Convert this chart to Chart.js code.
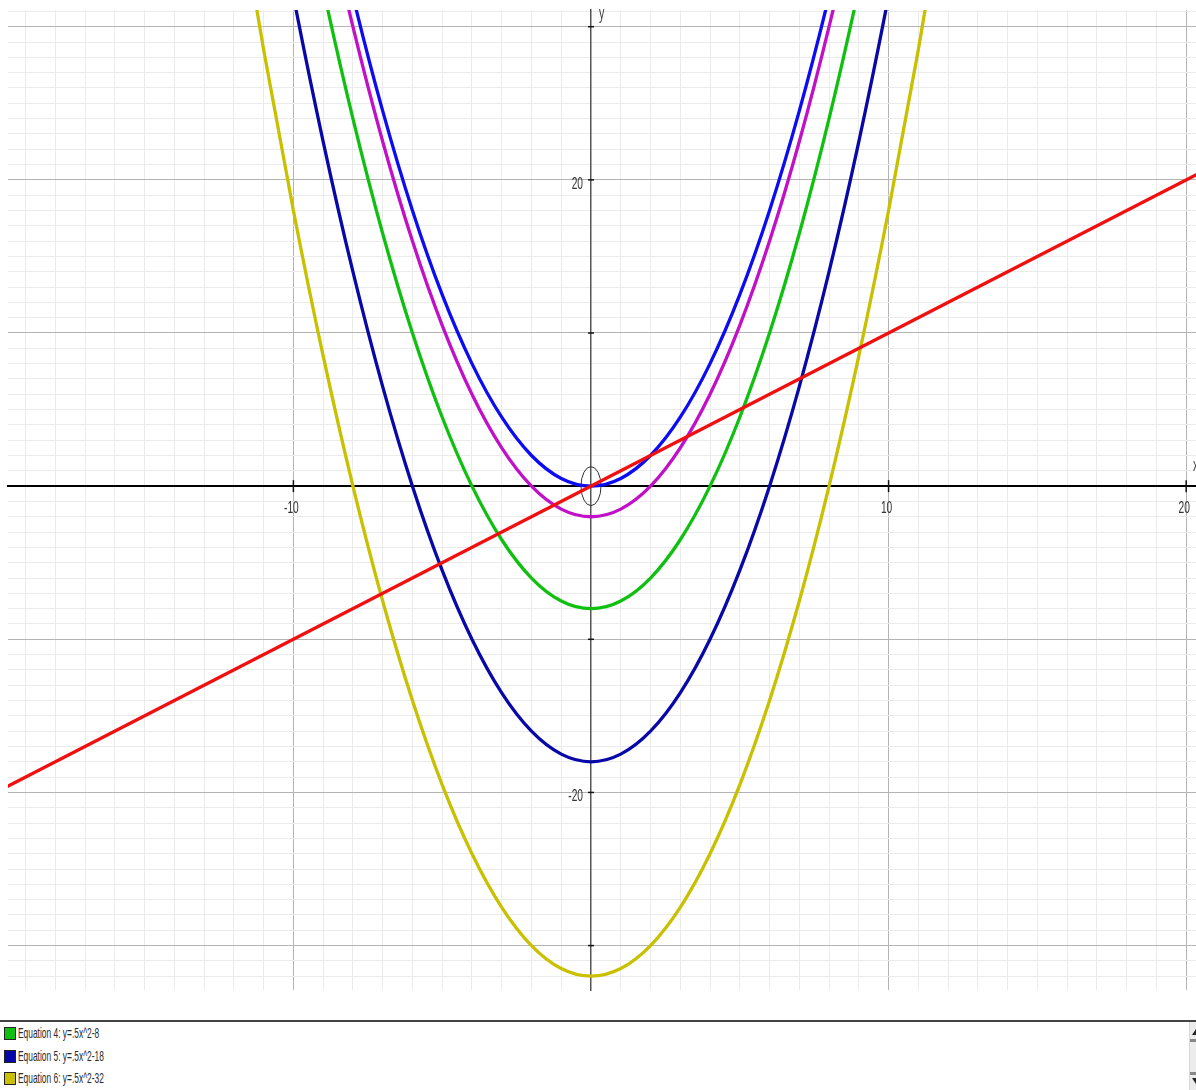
<!DOCTYPE html>
<html>
<head>
<meta charset="utf-8">
<script src="https://cdn.jsdelivr.net/npm/chart.js@4.4.1/dist/chart.umd.min.js"></script>
<style>
  html, body { margin: 0; padding: 0; background: #fff; overflow: hidden; }
  #wrap { position: relative; width: 1196px; height: 1020px; }
  #panel {
    position: relative; width: 1196px; height: 68px; overflow: hidden;
    border-top: 2px solid #444;
    font-family: "Liberation Sans", Arial, sans-serif;
    font-size: 15px; color: #2a2a2a;
  }
  .row { position: absolute; left: 4px; height: 13px; line-height: 13px; white-space: nowrap; }
  .sw { position: absolute; left: 0; top: 0; width: 10px; height: 11px; border: 1px solid #222; }
  .txt { position: absolute; left: 14px; top: -1px; transform: scaleX(0.56); transform-origin: 0 50%; }
  #sb { position: absolute; left: 1189px; top: 0; width: 16px; height: 68px; background: #ececec; border-left: 1px solid #d8d8d8; }
  .arr { position: absolute; left: 2px; width: 0; height: 0; border-left: 4px solid transparent; border-right: 4px solid transparent; }
</style>
</head>
<body>
<div id="wrap"><canvas id="graph"></canvas></div>
<div id="panel">
  <div id="rows"></div>
  <div id="sb">
    <div class="arr" style="top:7px;border-bottom:6px solid #222;"></div>
    <div style="position:absolute;left:0;top:17px;width:12px;height:3px;background:#888;"></div>
    <div style="position:absolute;left:0;top:50px;width:12px;height:3px;background:#888;"></div>
    <div class="arr" style="top:56px;border-top:6px solid #222;"></div>
  </div>
</div>
<script>
// sample x positions for the curves
const xValues = [-12, -11, -10, -9, -8, -7, -6, -5, -4, -3, -2, -1, 0, 1, 2, 3, 4, 5, 6, 7, 8, 9, 10, 11, 12];

// y = x (red line), only two ends needed
const lineX = [-21, 21];
const lineY = [-21, 21];

// y = .5x^2
const eq2 = [72, 60.5, 50, 40.5, 32, 24.5, 18, 12.5, 8, 4.5, 2, 0.5, 0, 0.5, 2, 4.5, 8, 12.5, 18, 24.5, 32, 40.5, 50, 60.5, 72];
// y = .5x^2-2
const eq3 = [70, 58.5, 48, 38.5, 30, 22.5, 16, 10.5, 6, 2.5, 0, -1.5, -2, -1.5, 0, 2.5, 6, 10.5, 16, 22.5, 30, 38.5, 48, 58.5, 70];
// y = .5x^2-8
const eq4 = [64, 52.5, 42, 32.5, 24, 16.5, 10, 4.5, 0, -3.5, -6, -7.5, -8, -7.5, -6, -3.5, 0, 4.5, 10, 16.5, 24, 32.5, 42, 52.5, 64];
// y = .5x^2-18
const eq5 = [54, 42.5, 32, 22.5, 14, 6.5, 0, -5.5, -10, -13.5, -16, -17.5, -18, -17.5, -16, -13.5, -10, -5.5, 0, 6.5, 14, 22.5, 32, 42.5, 54];
// y = .5x^2-32
const eq6 = [40, 28.5, 18, 8.5, 0, -7.5, -14, -19.5, -24, -27.5, -30, -31.5, -32, -31.5, -30, -27.5, -24, -19.5, -14, -7.5, 0, 8.5, 18, 28.5, 40];

const eqLabels = ["Equation 1: y=x", "Equation 2: y=.5x^2", "Equation 3: y=.5x^2-2",
                  "Equation 4: y=.5x^2-8", "Equation 5: y=.5x^2-18", "Equation 6: y=.5x^2-32"];
const eqColors = ["#f01010", "#0c0cf4", "#c010c8", "#10c010", "#0808a8", "#c8c000"];
const legendShown = [3, 4, 5]; // list is scrolled down in the original

const xTickLabels = [-10, 10, 20];
const yTickLabels = [-20, 20];

const toPoints = (xs, ys) => xs.map((x, i) => ({ x: x, y: ys[i] }));

const datasets = [toPoints(lineX, lineY), toPoints(xValues, eq2), toPoints(xValues, eq3),
                  toPoints(xValues, eq4), toPoints(xValues, eq5), toPoints(xValues, eq6)]
  .map((pts, i) => ({
    label: eqLabels[i],
    data: pts,
    borderColor: eqColors[i],
    backgroundColor: eqColors[i],
    borderWidth: 3.3,
    pointRadius: 0,
    fill: false,
    cubicInterpolationMode: "monotone"
  }));

const labelFont = "17px 'Liberation Sans', Arial, sans-serif";

// the screenshot text is squeezed sideways, so draw it narrowed
function narrowText(ctx, text, x, y, align) {
  ctx.save();
  ctx.translate(x, y);
  ctx.scale(0.6, 1);
  ctx.textAlign = align;
  ctx.fillText(text, 0, 0);
  ctx.restore();
}

// origin marker, axis ticks, tick labels and axis names
const extras = {
  id: "extras",
  beforeDatasetsDraw(chart) {
    const { ctx, scales } = chart;
    const ox = scales.x.getPixelForValue(0);
    const oy = scales.y.getPixelForValue(0);
    ctx.save();
    ctx.strokeStyle = "#333";
    ctx.lineWidth = 1;
    ctx.beginPath();
    ctx.ellipse(ox, oy, 10, 19.5, 0, 0, Math.PI * 2);
    ctx.stroke();

    // small crossing tick marks on each ten
    ctx.strokeStyle = "#111";
    ctx.lineWidth = 1.5;
    scales.x.ticks.forEach(t => {
      if (t.value % 10 !== 0 || t.value === 0) return;
      const px = scales.x.getPixelForValue(t.value);
      ctx.beginPath(); ctx.moveTo(px, oy - 6); ctx.lineTo(px, oy + 6); ctx.stroke();
    });
    scales.y.ticks.forEach(t => {
      if (t.value % 10 !== 0 || t.value === 0) return;
      const py = scales.y.getPixelForValue(t.value);
      ctx.beginPath(); ctx.moveTo(ox - 3, py); ctx.lineTo(ox + 3, py); ctx.stroke();
    });

    ctx.fillStyle = "#333";
    ctx.font = labelFont;
    ctx.textBaseline = "middle";
    xTickLabels.forEach(v => narrowText(ctx, String(v), scales.x.getPixelForValue(v) - 2, oy + 22, "center"));
    yTickLabels.forEach(v => narrowText(ctx, String(v), ox - 8, scales.y.getPixelForValue(v) + 4, "right"));

    ctx.fillStyle = "#444";
    ctx.font = "18px 'Liberation Sans', Arial, sans-serif";
    narrowText(ctx, "y", ox + 8, chart.chartArea.top + 4, "left");
    narrowText(ctx, "x", chart.chartArea.right - 3, oy - 20, "left");
    ctx.restore();
  }
};

const gridColor = c => (c.tick && c.tick.value % 10 === 0) ? "#b4b4b4" : "#ebebeb";

new Chart(document.getElementById("graph"), {
  type: "line",
  data: { datasets: datasets },
  options: {
    responsive: true,
    maintainAspectRatio: false,
    animation: false,
    layout: { padding: { left: 8, top: 10, right: 0, bottom: 30 } },
    plugins: { legend: { display: false }, tooltip: { enabled: false } },
    scales: {
      x: {
        type: "linear",
        position: { y: 0 },
        min: -19.59,
        max: 20.33,
        border: { color: "#000", width: 2 },
        grid: { color: gridColor, drawTicks: false },
        ticks: { stepSize: 1, includeBounds: false, autoSkip: false, display: false }
      },
      y: {
        type: "linear",
        position: { x: 0 },
        min: -32.9,
        max: 31.09,
        border: { color: "#555", width: 1.5 },
        grid: { color: gridColor, drawTicks: false },
        ticks: { stepSize: 1, includeBounds: false, autoSkip: false, display: false }
      }
    }
  },
  plugins: [extras]
});

// equation list under the graph
const rows = document.getElementById("rows");
legendShown.forEach((idx, r) => {
  const div = document.createElement("div");
  div.className = "row";
  div.style.top = (5 + r * 22.5) + "px";
  div.innerHTML = '<span class="sw" style="background:' + eqColors[idx] + '"></span>' +
                  '<span class="txt">' + eqLabels[idx] + '</span>';
  rows.appendChild(div);
});
</script>
</body>
</html>
